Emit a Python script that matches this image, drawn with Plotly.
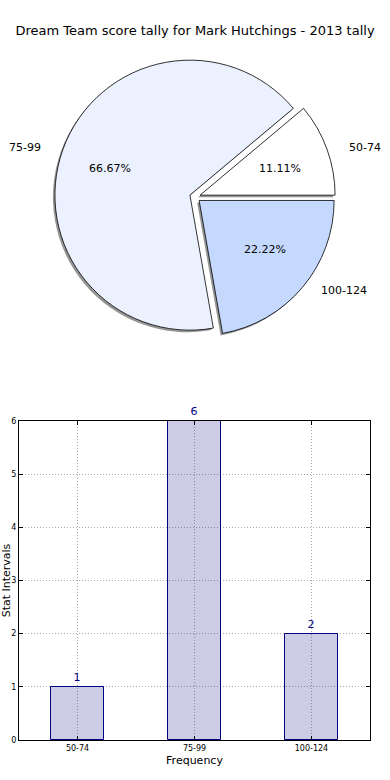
import numpy as np
import plotly.graph_objects as go

# ---- data ----
title_text = "Dream Team score tally for Mark Hutchings - 2013 tally"
categories = ["50-74", "75-99", "100-124"]
counts = [1, 6, 2]
pie_colors = ["#ffffff", "#ebf1fe", "#c5d9fe"]
y_ticks = [0, 1, 2, 3, 4, 5, 6]

W, H = 390, 780
FONT = "DejaVu Sans"

# pie geometry (pixels)
cx, cy, r = 195, 197, 135
rx_lab, ry_lab = 142, 128   # label placement radii (reference pie is slightly elliptical)
pull = 0.04
box = 2 * r * (1 + pull)


def pie_domain(dx=0.0, dy=0.0):
    x0 = (cx + dx - box / 2) / W
    x1 = (cx + dx + box / 2) / W
    y0 = 1 - (cy + dy + box / 2) / H
    y1 = 1 - (cy + dy - box / 2) / H
    return dict(x=[x0, x1], y=[y0, y1])


fig = go.Figure()

# shadow
fig.add_trace(go.Pie(
    labels=categories, values=counts, sort=False, direction="counterclockwise",
    rotation=50, pull=[pull] * 3, domain=pie_domain(-2, 2),
    marker=dict(colors=["#959595"] * 3, line=dict(width=0)),
    textinfo="none", hoverinfo="skip", showlegend=False,
))

# main pie
fig.add_trace(go.Pie(
    labels=categories, values=counts, sort=False, direction="counterclockwise",
    rotation=50, pull=[pull] * 3, domain=pie_domain(),
    marker=dict(colors=pie_colors, line=dict(color="black", width=0.8)),
    textinfo="none", showlegend=False,
))

# labels at 1.1 r and percentages at 0.6 r along each slice's mid-angle
total = sum(counts)
cum = np.cumsum([0] + counts)
for i, lab in enumerate(categories):
    mid = 2 * np.pi * (cum[i] + counts[i] / 2) / total
    c, s = np.cos(mid), np.sin(mid)
    ox, oy = cx + pull * rx_lab * c, cy - pull * ry_lab * s
    fig.add_annotation(
        x=(ox + 1.1 * rx_lab * c) / W, y=1 - (oy - 1.1 * ry_lab * s) / H,
        xref="paper", yref="paper", text=lab, showarrow=False,
        xanchor="left" if c >= 0 else "right", yanchor="middle",
        font=dict(family=FONT, size=11, color="black"),
    )
    fig.add_annotation(
        x=(ox + 0.6 * rx_lab * c) / W, y=1 - (oy - 0.6 * ry_lab * s) / H,
        xref="paper", yref="paper",
        text=f"{100 * counts[i] / total:.2f}%", showarrow=False,
        xanchor="center", yanchor="middle",
        font=dict(family=FONT, size=11, color="black"),
    )

# bar chart
fig.add_trace(go.Bar(
    x=list(range(len(categories))), y=counts, width=0.45,
    marker=dict(color="rgba(0,0,128,0.2)", line=dict(color="#000080", width=1)),
    text=[str(c) for c in counts], textposition="outside",
    textfont=dict(family=FONT, size=11, color="#000080"),
    cliponaxis=False, showlegend=False,
))

axis_common = dict(
    showline=True, linecolor="black", linewidth=1, mirror="ticks",
    ticks="inside", ticklen=4, tickcolor="black",
    showgrid=True, gridcolor="#aaaaaa", griddash="1px,2px", gridwidth=1,
    zeroline=False, tickfont=dict(family=FONT, size=8, color="black"),
    automargin=False,
)

fig.update_layout(
    width=W, height=H,
    margin=dict(l=0, r=0, t=0, b=0),
    paper_bgcolor="white", plot_bgcolor="white",
    font=dict(family=FONT, color="black"),
    title=dict(text=title_text, x=0.5, xanchor="center", y=1 - 30 / H,
               yanchor="middle", font=dict(family=FONT, size=13, color="black")),
    xaxis=dict(domain=[19 / W, 370 / W], range=[-0.5, 2.5],
               tickvals=list(range(len(categories))), ticktext=categories,
               title=dict(text="Frequency", standoff=4,
                          font=dict(family=FONT, size=11)),
               **axis_common),
    yaxis=dict(domain=[1 - 740 / H, 1 - 421 / H], range=[0, 6],
               tickvals=y_ticks, ticktext=[str(t) for t in y_ticks],
               title=dict(text="Stat Intervals", standoff=0,
                          font=dict(family=FONT, size=11)),
               **axis_common),
    bargap=0,
)

fig.write_html("out.html", config={"displayModeBar": False},
               post_script="document.body.style.margin='0';document.body.style.overflow='hidden';")
